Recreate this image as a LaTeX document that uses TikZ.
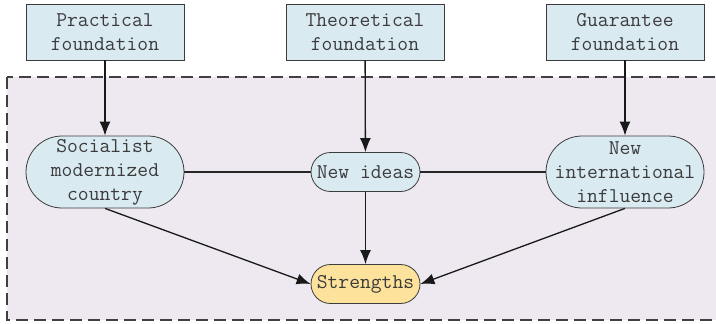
\documentclass[tikz,border=0pt]{standalone}
\usepackage{fontspec}
\usetikzlibrary{arrows.meta}
\definecolor{boxblue}{RGB}{218,234,241}
\definecolor{regionbg}{RGB}{238,232,240}
\definecolor{stryellow}{RGB}{252,226,154}
\definecolor{edge}{RGB}{60,60,60}
\definecolor{txt}{RGB}{60,60,60}
\tikzset{
  basebox/.style={draw=edge, line width=0.8pt, fill=boxblue, align=center, inner sep=0pt,
    font=\ttfamily\fontsize{21}{24}\selectfont, text=txt},
  topbox/.style={basebox, minimum width=158pt, minimum height=56pt},
  bigpill/.style={basebox, minimum width=158pt, minimum height=72pt, rounded corners=36pt},
  smallpill/.style={basebox, minimum width=109pt, minimum height=39pt, rounded corners=19.5pt},
  arr/.style={-{Latex[length=14pt,width=11pt]}, line width=1.3pt, draw=black!90},
  link/.style={line width=1.3pt, draw=black!85},
}
\begin{document}
\begin{tikzpicture}[x=1pt,y=-1pt]
\useasboundingbox (0,0) rectangle (716,324);
\draw[fill=regionbg, draw=black!75, line width=1.4pt, dash pattern=on 12pt off 6pt] (7,77) rectangle (730,320);
\node[topbox] (prac) at (105,32) {Practical\\foundation};
\node[topbox] (theo) at (365,32) {Theoretical\\foundation};
\node[topbox] (guar) at (625,32) {Guarantee\\foundation};
\node[bigpill] (soc) at (105,172) {Socialist\\modernized\\country};
\node[smallpill] (ideas) at (365.5,172) {New ideas};
\node[bigpill] (intl) at (625,172) {New\\international\\influence};
\node[smallpill, fill=stryellow] (str) at (365.5,284) {Strengths};
\draw[arr] (prac) -- (soc);
\draw[arr] (theo) -- (ideas);
\draw[arr] (guar) -- (intl);
\draw[link] (soc) -- (ideas);
\draw[link] (ideas) -- (intl);
\draw[arr] (ideas) -- (str);
\draw[arr] (soc.south) -- (str.west);
\draw[arr] (intl.south) -- (str.east);
\end{tikzpicture}
\end{document}
